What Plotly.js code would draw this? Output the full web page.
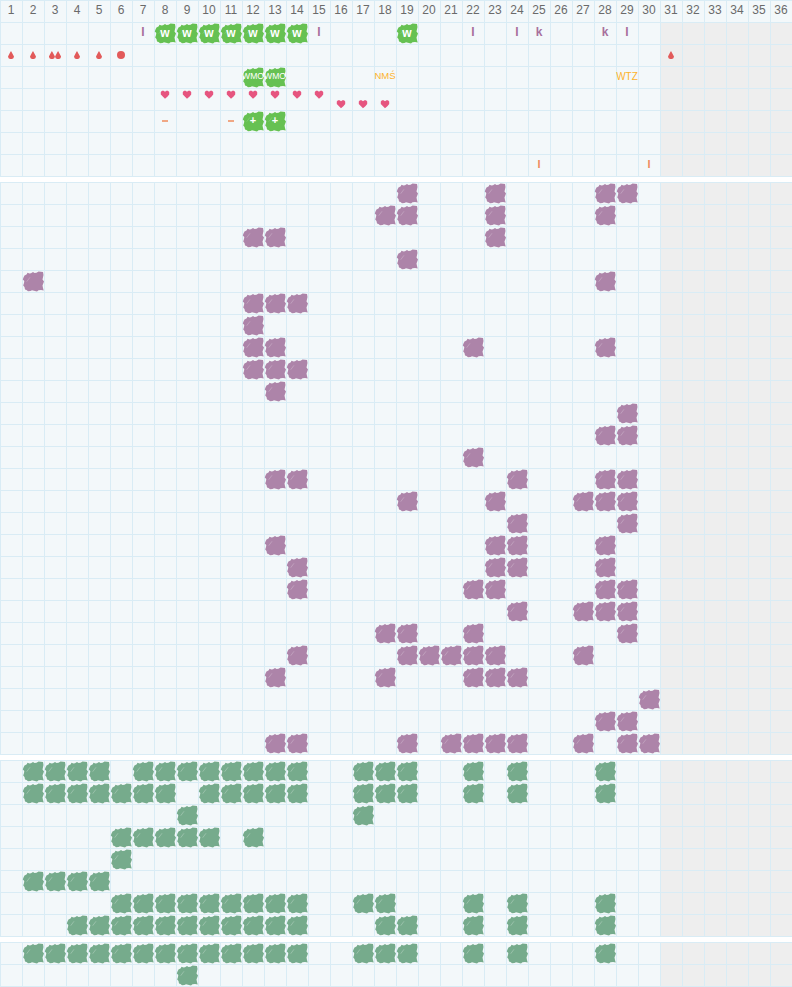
<!DOCTYPE html>
<html>
<head>
<meta charset="utf-8">
<script src="https://cdn.plot.ly/plotly-3.0.0.min.js"></script>
<style>html,body{margin:0;padding:0;background:#fff;overflow:hidden}#chart{width:792px;height:987px}</style>
</head>
<body>
<div id="chart"></div>
<script>
// ---------- data ----------
const dayLabels = Array.from({length: 36}, (_, i) => String(i + 1));
const workDays = [8, 9, 10, 11, 12, 13, 14, 19];
const letterI = [7, 15, 22, 24, 29];
const letterK = [25, 28];
const dropDays = [1, 2, 2.86, 3.14, 4, 5, 31];
const circleDays = [6];
const wmoDays = [12, 13];
const orangeLabels = ['NMŚ', 'WTZ'];
const orangeLabelDays = [18, 29];
const heartsHigh = [8, 9, 10, 11, 12, 13, 14, 15];
const heartsLow = [16, 17, 18];
const dashDays = [8, 11];
const plusDays = [12, 13];
const orangeI = [25, 30];

const purpleRows = [
  [19, 23, 28, 29], [18, 19, 23, 28], [12, 13, 23], [19], [2, 28], [12, 13, 14], [12],
  [12, 13, 22, 28], [12, 13, 14], [13], [29], [28, 29], [22], [13, 14, 24, 28, 29],
  [19, 23, 27, 28, 29], [24, 29], [13, 23, 24, 28], [14, 23, 24, 28], [14, 22, 23, 28, 29],
  [24, 27, 28, 29], [18, 19, 22, 29], [14, 19, 20, 21, 22, 23, 27], [13, 18, 22, 23, 24],
  [30], [28, 29], [13, 14, 19, 21, 22, 23, 24, 27, 29, 30]
];
const greenRows = [
  [2, 3, 4, 5, 7, 8, 9, 10, 11, 12, 13, 14, 17, 18, 19, 22, 24, 28],
  [2, 3, 4, 5, 6, 7, 8, 10, 11, 12, 13, 14, 17, 18, 19, 22, 24, 28],
  [9, 17],
  [6, 7, 8, 9, 10, 12],
  [6],
  [2, 3, 4, 5],
  [6, 7, 8, 9, 10, 11, 12, 13, 14, 17, 18, 22, 24, 28],
  [4, 5, 6, 7, 8, 9, 10, 11, 12, 13, 14, 18, 19, 22, 24, 28]
];
const lastRows = [
  [2, 3, 4, 5, 6, 7, 8, 9, 10, 11, 12, 13, 14, 17, 18, 19, 22, 24, 28],
  [9]
];

// ---------- styles ----------
const PX = 22;
const blobShape = [[-9.5,-3.5],[-8.5,-5.5],[-6.5,-6.5],[-5.5,-8.2],[-3.5,-7.5],[-2,-7.8],[0,-9],[1.5,-8],[3.5,-8.2],[5.5,-9.5],[8,-9.2],[10,-9],[10.5,-6],[9.5,-3.5],[9.5,-1.5],[11,0.5],[10.5,3],[9.5,4.5],[10,7],[10.7,9.5],[8,9],[5.5,9.2],[4,10.5],[1.5,9.7],[-1,9.3],[-2.5,10],[-5,10.2],[-6.5,9],[-8,8.5],[-8.5,6],[-9.8,4.5],[-9,2],[-8.7,0],[-10.2,-1.5]];
const dropShape = [[0,-4],[1.2,-2],[2.6,0.2],[3,1.6],[2.4,3.2],[1,4],[-1,4],[-2.4,3.2],[-3,1.6],[-2.6,0.2],[-1.2,-2]];
const heartShape = [[0,4.2],[-2.6,2],[-4.2,0],[-4.2,-2.4],[-3,-3.8],[-1.4,-3.8],[0,-2.8],[1.4,-3.8],[3,-3.8],[4.2,-2.4],[4.2,0],[2.6,2]];
const scratch = [[-6.3,0.7],[-3,-3.7]];
const dashShape = [[-3,-0.8],[3,-0.8],[3,0.8],[-3,0.8]];

const LINE = '#d9ecf5', CELL = '#f3f8fa', GREY = '#eeeeee';
const PURPLE = '#ad84a9', TEAL = '#76ab8c', GREEN = '#66c152', RED = '#e25a5a', PINK = '#e6557f', ORANGE = '#f08c5e', AMBER = '#fdb32b', LETTER = '#a8709d';

const groups = [{top: 0, rows: 8}, {top: 182, rows: 26}, {top: 760, rows: 8}, {top: 942, rows: 2}];
const rowY = (g, r) => groups[g].top + PX * r + PX / 2;

// ---------- helpers ----------
function glyphs(points, shape, color) {
  const x = [], y = [];
  points.forEach(([c, cy]) => {
    shape.forEach(([dx, dy]) => { x.push(c + dx / PX); y.push(cy + dy); });
    x.push(c + shape[0][0] / PX); y.push(cy + shape[0][1]);
    x.push(null); y.push(null);
  });
  return {type: 'scatter', mode: 'lines', x, y, fill: 'toself', fillcolor: color, line: {width: 0, color}, hoverinfo: 'skip'};
}
function strokes(points, shape, color) {
  const x = [], y = [];
  points.forEach(([c, cy]) => {
    shape.forEach(([dx, dy]) => { x.push(c + dx / PX); y.push(cy + dy); });
    x.push(null); y.push(null);
  });
  return {type: 'scatter', mode: 'lines', x, y, line: {width: 1, color}, hoverinfo: 'skip'};
}
function labels(xs, ys, text, color, size, family, weight) {
  return {type: 'scatter', mode: 'text', x: xs, y: ys, text, textposition: 'middle center',
    textfont: {color, size, family: family || 'Liberation Sans', weight: weight || 400}, hoverinfo: 'skip', cliponaxis: false};
}
const rowPoints = (rows, g) => rows.flatMap((cols, r) => cols.map(c => [c, rowY(g, r)]));
const oneRow = (cols, g, r) => cols.map(c => [c, rowY(g, r)]);
const same = (arr, v) => arr.map(() => v);

// ---------- traces ----------
const purplePts = rowPoints(purpleRows, 1);
const tealPts = rowPoints(greenRows, 2).concat(rowPoints(lastRows, 3));
const brightPts = oneRow(workDays, 0, 1).concat(oneRow(wmoDays, 0, 3), oneRow(plusDays, 0, 5));

const traces = [
  glyphs(purplePts, blobShape, PURPLE),
  strokes(purplePts, scratch, 'rgba(255,255,255,0.22)'),
  glyphs(tealPts, blobShape, TEAL),
  strokes(tealPts, scratch, 'rgba(255,255,255,0.25)'),
  glyphs(brightPts, blobShape, GREEN),
  strokes(brightPts, scratch, 'rgba(255,255,255,0.15)'),
  glyphs(oneRow(dropDays, 0, 2), dropShape, RED),
  {type: 'scatter', mode: 'markers', x: circleDays, y: same(circleDays, rowY(0, 2)), marker: {symbol: 'circle', size: 8, color: RED, line: {width: 0}}, hoverinfo: 'skip'},
  glyphs(heartsHigh.map(c => [c, 94.5]), heartShape, PINK),
  glyphs(heartsLow.map(c => [c, 104]), heartShape, PINK),
  glyphs(dashDays.map(c => [c, rowY(0, 5)]), dashShape, ORANGE),
  labels(dayLabels.map(Number), same(dayLabels, rowY(0, 0)), dayLabels, '#6a6a6a', 12),
  labels(workDays, same(workDays, rowY(0, 1) + 1), same(workDays, 'w'), '#ffffff', 12, null, 700),
  labels(letterI, same(letterI, rowY(0, 1)), same(letterI, 'I'), LETTER, 12, null, 700),
  labels(letterK, same(letterK, rowY(0, 1)), same(letterK, 'k'), LETTER, 12, null, 700),
  labels(wmoDays, same(wmoDays, rowY(0, 3)), same(wmoDays, 'WMO'), '#ffffff', 8.6),
  labels(orangeLabelDays, same(orangeLabelDays, rowY(0, 3)), orangeLabels, AMBER, [9.5, 10]),
  labels(plusDays, same(plusDays, rowY(0, 5)), same(plusDays, '+'), '#ffffff', 11, null, 700),
  labels(orangeI, same(orangeI, rowY(0, 7)), same(orangeI, 'I'), ORANGE, 11, null, 700)
];

// ---------- grid as layout shapes ----------
const shapes = [];
groups.forEach(g => {
  const bottom = g.top + PX * g.rows;
  shapes.push({type: 'rect', layer: 'below', x0: 0.5, x1: 36.5, y0: g.top, y1: bottom + 1, fillcolor: CELL, line: {width: 0}});
  shapes.push({type: 'rect', layer: 'below', x0: 30.5, x1: 36.5, y0: g.top > 0 ? g.top : g.top + PX, y1: bottom + 1, fillcolor: GREY, line: {width: 0}});
  for (let r = 0; r <= g.rows; r++) {
    const y = g.top + PX * r + 0.5;
    shapes.push({type: 'line', layer: 'below', x0: 0.5, x1: 36.5, y0: y, y1: y, line: {color: LINE, width: 1}});
  }
  for (let c = 0; c <= 36; c++) {
    const x = c + 0.5 + 0.5 / PX;
    shapes.push({type: 'line', layer: 'below', x0: x, x1: x, y0: g.top, y1: bottom + 1, line: {color: LINE, width: 1}});
  }
});

const layout = {
  width: 792, height: 987, margin: {l: 0, r: 0, t: 0, b: 0},
  paper_bgcolor: '#ffffff', plot_bgcolor: '#ffffff', showlegend: false, hovermode: false,
  xaxis: {range: [0.5, 36.5], visible: false, fixedrange: true},
  yaxis: {range: [987, 0], visible: false, fixedrange: true},
  shapes
};
Plotly.newPlot('chart', traces, layout, {displayModeBar: false, staticPlot: true});
</script>
</body>
</html>
